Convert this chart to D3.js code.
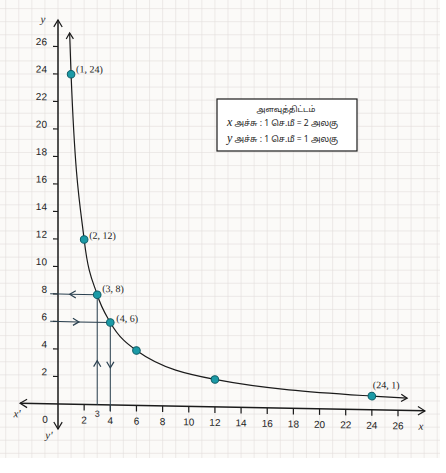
<!DOCTYPE html>
<html>
<head>
<meta charset="utf-8">
<script src="https://cdn.jsdelivr.net/npm/d3@7"></script>
<style>
  html, body { margin: 0; padding: 0; background: #fff; }
  svg { display: block; }
</style>
</head>
<body>
<svg id="chart"></svg>
<script>
'use strict';

// points plotted on the curve xy = 24
const xValues = [1, 2, 3, 4, 6, 12, 24];
const yValues = [24, 12, 8, 6, 4, 2, 1];
const pointLabels = ['(1, 24)', '(2, 12)', '(3, 8)', '(4, 6)', '', '', '(24, 1)'];

// where the drawn curve ends (arrow tips)
const curveStart = [0.89, 27];
const curveEnd = [26.7, 0.9];

const xTicks = [2, 4, 6, 8, 10, 12, 14, 16, 18, 20, 22, 24, 26];
const yTicks = [2, 4, 6, 8, 10, 12, 14, 16, 18, 20, 22, 24, 26];

// reading guides: [from, arrow position, to]
const guideLines = [
  [[3, 8], [0.9, 8], [-0.6, 8]],
  [[3, 0], [3, 3.2], [3, 8]],
  [[-0.6, 6], [1.6, 6], [4, 6]],
  [[4, 6], [4, 2.7], [4, -0.5]]
];

const legendTitle = 'அளவுத்திட்டம்';
const legendRows = [
  ['x', ' அச்சு : 1 செ.மீ = 2 அலகு'],
  ['y', ' அச்சு : 1 செ.மீ = 1 அலகு']
];

const W = 446, H = 473;
const svg = d3.select('#chart').attr('width', W).attr('height', H);

const x = d3.scaleLinear().domain([0, 26]).range([58, 398]);
const y = d3.scaleLinear().domain([0, 26]).range([404, 46.5]);

// graph paper
const paperW = 440, paperH = 458, cell = 13.08;
svg.append('rect').attr('width', W).attr('height', H).attr('fill', '#ffffff');
svg.append('rect').attr('width', paperW).attr('height', paperH).attr('fill', '#fbfaf8');

const grid = svg.append('g').attr('stroke', '#e3dedb').attr('stroke-width', 0.6);
d3.range(-4, 30).map(k => x(k)).filter(px => px > 0 && px <= paperW).forEach(px => {
  grid.append('line').attr('x1', px).attr('x2', px).attr('y1', 0).attr('y2', paperH);
});
d3.range(0, 36).map(k => 8.6 + k * cell).filter(py => py <= paperH).forEach(py => {
  grid.append('line').attr('x1', 0).attr('x2', paperW).attr('y1', py).attr('y2', py);
});

// arrow heads
const defs = svg.append('defs');
function chevron(id, size, color) {
  defs.append('marker')
    .attr('id', id)
    .attr('viewBox', `${-size - 1} ${-size} ${size + 3} ${size * 2}`)
    .attr('markerWidth', size + 3)
    .attr('markerHeight', size * 2)
    .attr('markerUnits', 'userSpaceOnUse')
    .attr('refX', 0).attr('refY', 0)
    .attr('orient', 'auto-start-reverse')
    .append('path')
    .attr('d', `M${-size},${-size * 0.6} L0,0 L${-size},${size * 0.6}`)
    .attr('fill', 'none')
    .attr('stroke', color)
    .attr('stroke-width', 1.2);
}
chevron('axisArrow', 7, '#1b1b1b');
chevron('curveArrow', 6, '#1b1b1b');
chevron('guideArrow', 6, '#2b4150');

// the drawing on the scan slopes down slightly to the right
const g = svg.append('g')
  .attr('transform', `translate(${x(0)},${y(0)}) skewY(1.07) translate(${-x(0)},${-y(0)})`);

// axes
g.append('line')
  .attr('x1', x(0)).attr('x2', x(0))
  .attr('y1', y(-1.82)).attr('y2', y(27.93))
  .attr('stroke', '#1b1b1b').attr('stroke-width', 1.5)
  .attr('marker-start', 'url(#axisArrow)').attr('marker-end', 'url(#axisArrow)');
g.append('line')
  .attr('x1', x(-2.9)).attr('x2', x(28.06))
  .attr('y1', y(0)).attr('y2', y(0))
  .attr('stroke', '#1b1b1b').attr('stroke-width', 1.5)
  .attr('marker-start', 'url(#axisArrow)').attr('marker-end', 'url(#axisArrow)');

// ticks and labels
const tickFont = '"Liberation Sans", Arial, sans-serif';
g.selectAll('.ytick').data(yTicks).join('line')
  .attr('class', 'ytick')
  .attr('x1', x(0) - 5).attr('x2', x(0))
  .attr('y1', d => y(d)).attr('y2', d => y(d))
  .attr('stroke', '#1b1b1b').attr('stroke-width', 1.2);
g.selectAll('.ylab').data(yTicks).join('text')
  .attr('class', 'ylab')
  .attr('x', x(0) - 11).attr('y', d => y(d) - 1)
  .attr('text-anchor', 'end')
  .attr('font-family', tickFont).attr('font-size', 10)
  .attr('fill', '#222')
  .text(d => d);

g.selectAll('.xtick').data(xTicks).join('line')
  .attr('class', 'xtick')
  .attr('x1', d => x(d)).attr('x2', d => x(d))
  .attr('y1', y(0)).attr('y2', y(0) + 6)
  .attr('stroke', '#1b1b1b').attr('stroke-width', 1.2);
g.selectAll('.xlab').data(xTicks).join('text')
  .attr('class', 'xlab')
  .attr('x', d => x(d)).attr('y', y(0) + 19)
  .attr('text-anchor', 'middle')
  .attr('font-family', tickFont).attr('font-size', 10)
  .attr('fill', '#222')
  .text(d => d);

g.append('text').attr('x', x(3)).attr('y', y(0) + 12)
  .attr('text-anchor', 'middle')
  .attr('font-family', tickFont).attr('font-size', 9).attr('fill', '#333')
  .text('3');
g.append('text').attr('x', x(0) - 13).attr('y', y(0) + 19)
  .attr('text-anchor', 'middle')
  .attr('font-family', tickFont).attr('font-size', 10).attr('fill', '#222')
  .text('0');

// axis names
const nameFont = '"Liberation Serif", "DejaVu Serif", serif';
[['y', x(0) - 15, y(27.93) + 3], ["x'", x(-2.9) - 3, y(0) + 14],
 ["y'", x(0) - 9, y(-1.82) + 10], ['x', x(28.06) - 4, y(0) + 19]].forEach(([t, px, py]) => {
  g.append('text').attr('x', px).attr('y', py)
    .attr('text-anchor', 'middle')
    .attr('font-family', nameFont).attr('font-style', 'italic').attr('font-size', 11)
    .attr('fill', '#222').text(t);
});

// guide lines
const guide = d3.line().x(d => x(d[0])).y(d => y(d[1]));
g.selectAll('.guide').data(guideLines).join('path')
  .attr('class', 'guide')
  .attr('d', guide)
  .attr('fill', 'none')
  .attr('stroke', '#2b4150').attr('stroke-width', 1)
  .attr('marker-mid', 'url(#guideArrow)');

// curve through the plotted points
const points = xValues.map((v, i) => [v, yValues[i]]);
const curvePts = [curveStart, ...points, curveEnd];
const curve = d3.line().x(d => x(d[0])).y(d => y(d[1])).curve(d3.curveMonotoneX);
g.append('path')
  .attr('d', curve(curvePts))
  .attr('fill', 'none')
  .attr('stroke', '#1b1b1b').attr('stroke-width', 1.2)
  .attr('marker-start', 'url(#curveArrow)').attr('marker-end', 'url(#curveArrow)');

// points
g.selectAll('.pt').data(points).join('circle')
  .attr('class', 'pt')
  .attr('cx', d => x(d[0])).attr('cy', d => y(d[1]))
  .attr('r', 3.8)
  .attr('fill', '#1b9aa6').attr('stroke', '#0f5d66').attr('stroke-width', 1);

const labelOffsets = [[5, -2], [5, -1], [5, -3], [6, -1], [0, 0], [0, 0], [1, -8]];
g.selectAll('.plab').data(points).join('text')
  .attr('class', 'plab')
  .attr('x', (d, i) => x(d[0]) + labelOffsets[i][0])
  .attr('y', (d, i) => y(d[1]) + labelOffsets[i][1])
  .attr('font-family', nameFont).attr('font-size', 10)
  .attr('fill', '#222')
  .text((d, i) => pointLabels[i]);

// legend box (scale note)
const tamilFont = '"Noto Sans Tamil", "Lohit Tamil", "Noto Sans", sans-serif';
const lg = svg.append('g');
lg.append('rect')
  .attr('x', 217).attr('y', 99).attr('width', 140).attr('height', 52)
  .attr('fill', '#ffffff').attr('stroke', '#1b1b1b').attr('stroke-width', 1.2);
lg.append('text').attr('x', 286).attr('y', 112)
  .attr('text-anchor', 'middle')
  .attr('font-family', tamilFont).attr('font-size', 8).attr('fill', '#222')
  .text(legendTitle);
legendRows.forEach((row, i) => {
  const t = lg.append('text').attr('x', 227).attr('y', 126 + i * 16)
    .attr('font-family', tamilFont).attr('font-size', 8.5).attr('fill', '#222');
  t.append('tspan').attr('font-family', nameFont).attr('font-style', 'italic')
    .attr('font-size', 12).text(row[0]);
  t.append('tspan').text(row[1]);
});
</script>
</body>
</html>
